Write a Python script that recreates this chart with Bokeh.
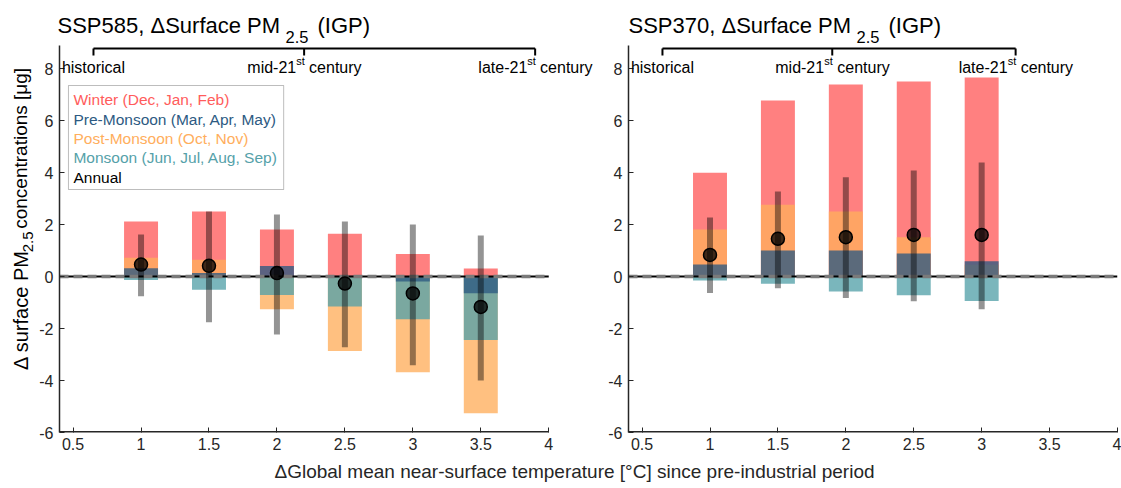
import math
from bokeh.plotting import figure
from bokeh.models import Label, BoxAnnotation, FixedTicker, PrintfTickFormatter, Range1d
from bokeh.layouts import row, column
from bokeh.embed import file_html
from bokeh.resources import INLINE

# ---------------- data ----------------
x_ticks = [0.5, 1.0, 1.5, 2.0, 2.5, 3.0, 3.5, 4.0]
y_ticks = [-6, -4, -2, 0, 2, 4, 6, 8]

season_labels = ["Winter (Dec, Jan, Feb)", "Pre-Monsoon (Mar, Apr, May)",
                 "Post-Monsoon (Oct, Nov)", "Monsoon (Jun, Jul, Aug, Sep)", "Annual"]

# SSP585
warming_585 = [1.0, 1.5, 2.0, 2.5, 3.0, 3.5]
winter_585 = [2.12, 2.50, 1.81, 1.64, 0.87, 0.31]
premonsoon_585 = [0.32, 0.13, 0.40, 0.03, -0.19, -0.64]
postmonsoon_585 = [0.72, 0.64, -1.26, -2.87, -3.68, -5.26]
monsoon_585 = [-0.13, -0.51, -0.71, -1.15, -1.64, -2.44]
annual_585 = [0.46, 0.41, 0.13, -0.27, -0.65, -1.17]
annual_lo_585 = [-0.76, -1.76, -2.23, -2.72, -3.41, -4.00]
annual_hi_585 = [1.62, 2.50, 2.38, 2.12, 2.00, 1.58]

# SSP370
warming_370 = [1.0, 1.5, 2.0, 2.5, 3.0]
winter_370 = [3.99, 6.77, 7.38, 7.50, 7.65]
premonsoon_370 = [0.46, 1.00, 1.00, 0.88, 0.59]
postmonsoon_370 = [1.81, 2.76, 2.50, 1.51, 0.45]
monsoon_370 = [-0.15, -0.28, -0.58, -0.72, -0.94]
annual_370 = [0.83, 1.45, 1.51, 1.60, 1.60]
annual_lo_370 = [-0.63, -0.45, -0.83, -0.95, -1.26]
annual_hi_370 = [2.27, 3.27, 3.82, 4.08, 4.38]

# periods (warming level reached in each period)
period_names = ["historical", "mid-21", "late-21"]
period_warming_585 = [0.65, 2.2, 3.9]
period_warming_370 = [0.65, 1.9, 3.25]

# ---------------- style / layout ----------------
FONT = "Liberation Sans"
AX = "#262626"
WINTER = "#ff5c5c"
PRE = "#2d5a82"
POST = "#ffae5c"
MONS = "#55a1a9"
BAR_ALPHA = 0.78
PX_PER_Y = 26.0          # vertical pixels per unit
Y_TOP_PAGE = 42          # page y of value 9
TITLE_H = 45
FRAME_BOTTOM_PAGE = 432  # page y of value -6
FRAME_H = FRAME_BOTTOM_PAGE - TITLE_H
BOT_B = 27
PANEL_H = FRAME_H + BOT_B
X0, Y0 = 0.4, -6.0
Y1 = 9.0 - (TITLE_H - Y_TOP_PAGE) / PX_PER_Y


def ypage(page_y):
    return 9.0 - (page_y - Y_TOP_PAGE) / PX_PER_Y


def make_panel(warming, winter, pre, post, mons, annual, lo, hi,
               periods, width, border_l, border_r, x_end, legend=False):
    fw = width - border_l - border_r
    ppu = fw / (x_end - X0)
    p = figure(width=width, height=PANEL_H, title=None,
               x_range=Range1d(X0, x_end), y_range=Range1d(Y0, Y1),
               output_backend="svg", toolbar_location=None,
               min_border_left=border_l, min_border_right=border_r,
               min_border_top=0, min_border_bottom=BOT_B,
               outline_line_color=None)
    p.grid.visible = False

    def sx(px):
        return X0 + px / ppu

    def dx(px):
        return px / ppu

    for ax in (p.xaxis[0], p.yaxis[0]):
        ax.axis_line_color = AX
        ax.axis_line_width = 1.5
        ax.major_tick_line_color = AX
        ax.major_tick_line_width = 1
        ax.major_tick_in = 5
        ax.major_tick_out = 0
        ax.minor_tick_in = 0
        ax.minor_tick_out = 0
        ax.major_label_text_font = FONT
        ax.major_label_text_font_size = "16px"
        ax.major_label_text_color = AX
        ax.formatter = PrintfTickFormatter(format="%g")
    p.xaxis.ticker = FixedTicker(ticks=x_ticks)
    p.yaxis.ticker = FixedTicker(ticks=y_ticks)
    p.xaxis.major_label_standoff = 5
    p.yaxis.major_label_standoff = 6
    # x axis line drawn only up to the last tick
    p.xaxis.axis_line_color = None
    p.segment(x0=[X0], y0=[Y0], x1=[x_ticks[-1]], y1=[Y0], line_color=AX, line_width=3)

    # seasonal bars, each from zero, overlapping
    for vals, col in ((winter, WINTER), (post, POST), (mons, MONS), (pre, PRE)):
        p.vbar(x=warming, top=vals, bottom=0, width=0.25, fill_color=col,
               fill_alpha=BAR_ALPHA, line_color=None)

    # zero line
    p.segment(x0=[X0], y0=[0], x1=[x_ticks[-1]], y1=[0], line_color="black", line_width=2)
    p.segment(x0=[X0], y0=[0], x1=[x_ticks[-1]], y1=[0], line_color="#7a7a7a",
              line_width=3.5, line_dash="9 5")

    # annual range and mean
    p.segment(x0=warming, y0=lo, x1=warming, y1=hi, line_color="black",
              line_alpha=0.42, line_width=6, line_cap="butt")
    p.scatter(x=warming, y=annual, size=13, fill_color="black", fill_alpha=0.75,
              line_color="black", line_width=1.5)

    # period bracket
    by = ypage(48)
    bt = ypage(55)
    p.segment(x0=[min(periods)], y0=[by], x1=[max(periods)], y1=[by],
              line_color="black", line_width=2)
    p.segment(x0=periods, y0=[by] * len(periods), x1=periods, y1=[bt] * len(periods),
              line_color="black", line_width=2)
    mid_y = ypage(66.5)
    sup_y = ypage(60)
    lab = dict(text_baseline="middle", text_font=FONT, text_color="black")
    for name, xv in zip(period_names, periods):
        if name == "historical":
            p.add_layout(Label(x=xv, y=mid_y, text=name, text_align="center",
                               text_font_size="16px", **lab))
        else:
            p.add_layout(Label(x=xv + dx(-57), y=mid_y, text=name, text_align="left",
                               text_font_size="16px", **lab))
            p.add_layout(Label(x=xv + dx(-8), y=sup_y, text="st", text_align="left",
                               text_font_size="11px", **lab))
            p.add_layout(Label(x=xv + dx(5), y=mid_y, text="century", text_align="left",
                               text_font_size="16px", **lab))

    if legend:
        p.add_layout(BoxAnnotation(left=sx(9), right=sx(225), top=ypage(85), bottom=ypage(189),
                                   fill_color="white", fill_alpha=1.0,
                                   line_color=AX, line_width=1))
        cols = [WINTER, PRE, POST, MONS, "black"]
        rows_page = [99, 119, 138, 157, 177]
        for text, col, pg in zip(season_labels, cols, rows_page):
            p.add_layout(Label(x=sx(14), y=ypage(pg), text=text, text_align="left",
                               text_baseline="middle", text_font=FONT,
                               text_font_size="15.5px", text_color=col))
    return p


def text_fig(width, height):
    f = figure(width=width, height=height, title=None, x_range=Range1d(0, width),
               y_range=Range1d(0, height), output_backend="svg", toolbar_location=None,
               min_border=0, x_axis_location=None, y_axis_location=None,
               outline_line_color=None)
    f.grid.visible = False
    return f


# ---- panels ----
YL_W = 36
p1 = make_panel(warming_585, winter_585, premonsoon_585, postmonsoon_585,
                monsoon_585, annual_585, annual_lo_585, annual_hi_585,
                period_warming_585, width=564, border_l=21, border_r=0,
                x_end=X0 + 543 / 136.4, legend=True)
p2 = make_panel(warming_370, winter_370, premonsoon_370, postmonsoon_370,
                monsoon_370, annual_370, annual_lo_370, annual_hi_370,
                period_warming_370, width=521, border_l=28, border_r=4, x_end=4.0)

# ---- titles (strip coordinates: x = page x, y = TITLE_H - page y) ----
pt = text_fig(1121, TITLE_H)
tl = dict(text_align="left", text_baseline="middle", text_font=FONT, text_color="black")
for scen, left in (("SSP585", 57), ("SSP370", 628)):
    pt.add_layout(Label(x=left, y=TITLE_H - 24.5, text=f"{scen}, \u0394Surface PM",
                        text_font_size="22px", **tl))
    pt.add_layout(Label(x=left + 228, y=TITLE_H - 36, text="2.5",
                        text_font_size="16.5px", **tl))
    pt.add_layout(Label(x=left + 260, y=TITLE_H - 24.5, text="(IGP)",
                        text_font_size="22px", **tl))

# ---- y label strip (x = page x, y = bottom page - page y) ----
py_ = text_fig(YL_W, PANEL_H)
strip_bottom = TITLE_H + PANEL_H
yl = dict(angle=math.pi / 2, text_align="center", text_baseline="middle",
          text_font=FONT, text_color="black")
py_.add_layout(Label(x=20, y=strip_bottom - 328, text="\u0394 surface PM",
                     text_font_size="20px", **yl))
py_.add_layout(Label(x=27.5, y=strip_bottom - 255, text="2.5",
                     text_font_size="15px", **yl))
py_.add_layout(Label(x=20, y=strip_bottom - 155, text="concentrations [\u03bcg]",
                     text_font_size="19px", **yl))

# ---- x label strip ----
XL_H = 488 - TITLE_H - PANEL_H
px_ = text_fig(1121, XL_H)
px_.add_layout(Label(x=574, y=488 - 471, text="\u0394Global mean near-surface temperature [\u00b0C] since pre-industrial period",
                     text_align="center", text_baseline="middle", text_font=FONT,
                     text_font_size="19px", text_color=AX))

layout = column(pt, row(py_, p1, p2), px_)
open("out.html", "w").write(file_html(layout, INLINE))
